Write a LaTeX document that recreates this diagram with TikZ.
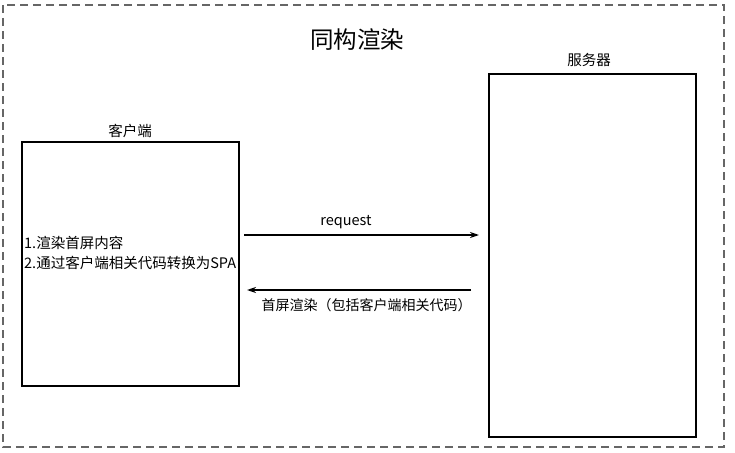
\documentclass[tikz,border=0pt]{standalone}
\usepackage{fontspec}
\setmainfont{Noto Sans CJK SC}
\usetikzlibrary{arrows.meta}
\begin{document}
\begin{tikzpicture}[x=1pt,y=-1pt,
  boxst/.style={draw=black,line width=2pt,inner sep=0pt},
  lbl/.style={font=\fontsize{14.5}{17}\selectfont,inner sep=0pt},
  arr/.style={line width=1.6pt,-{Stealth[length=9pt,width=6pt]}}]
\useasboundingbox (0,0) rectangle (735,452);
\draw[draw=black!60,line width=1.3pt,dash pattern=on 8pt off 5pt] (3,5) rectangle (724,447);
\node[font=\fontsize{23.5}{27}\selectfont,inner sep=0pt] (title) at (357,40) {同构渲染};
\node[boxst,minimum width=217pt,minimum height=244pt] (client) at (130.5,264) {};
\node[boxst,minimum width=207pt,minimum height=363pt] (server) at (592.5,255.5) {};
\node[lbl] (clab) at (130,131) {客户端};
\node[lbl] (slab) at (589,60) {服务器};
\node[lbl,anchor=west] (t1) at (24,243) {1.渲染首屏内容};
\node[lbl,anchor=west] (t2) at (24,263) {2.通过客户端相关代码转换为SPA};
\coordinate (a1) at (244,235);
\coordinate (a2) at (479,235);
\coordinate (b1) at (471,290);
\coordinate (b2) at (247,290);
\draw[arr] (a1) -- (a2);
\draw[arr] (b1) -- (b2);
\node[lbl] (req) at (346,222) {request};
\node[lbl,font=\fontsize{14}{16}\selectfont] (resp) at (366.5,305) {首屏渲染（包括客户端相关代码）};
\end{tikzpicture}
\end{document}
